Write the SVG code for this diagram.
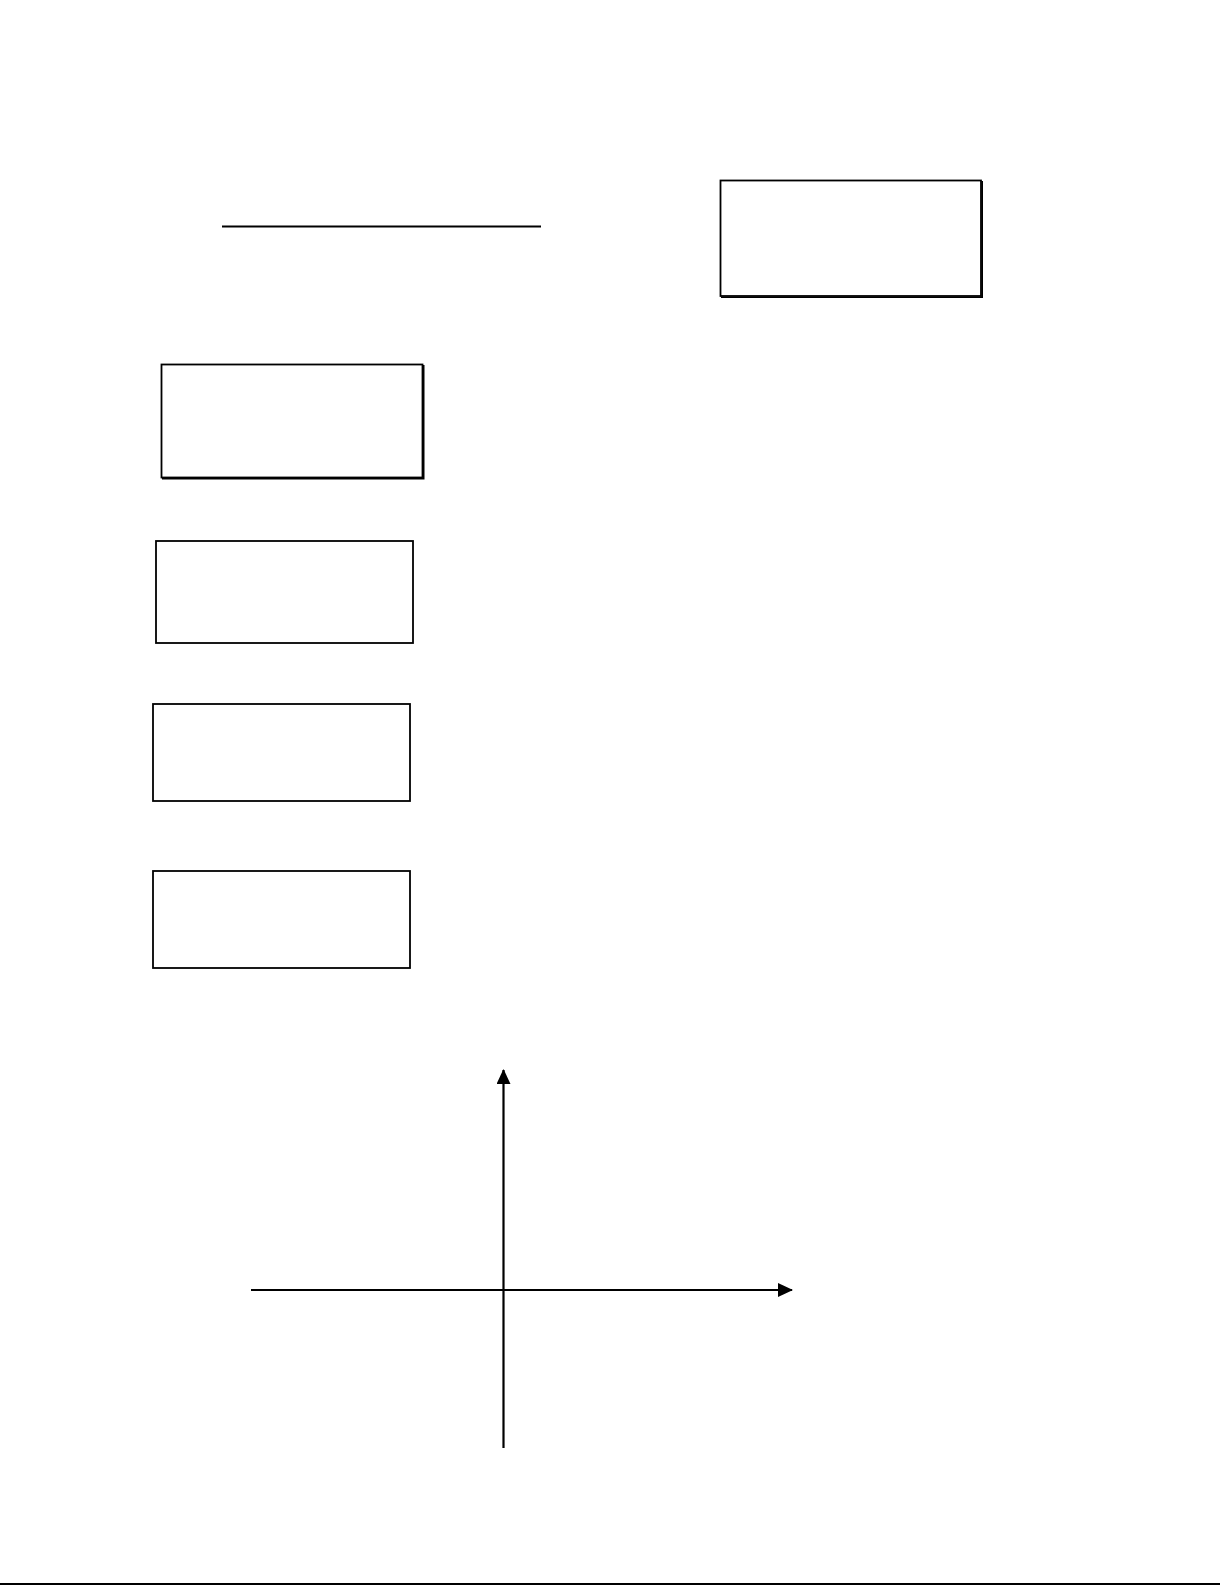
<svg xmlns="http://www.w3.org/2000/svg" width="1225" height="1585" viewBox="0 0 1225 1585">
<style>
.box{fill:#fff;stroke:#000;stroke-width:1.8}
.sh{fill:none;stroke:#000;stroke-width:1.6}
.ln{stroke:#000;stroke-width:1.8;fill:none}
.ax{stroke:#000;stroke-width:2.2;fill:none}
</style>
<defs>
<marker id="arr" viewBox="0 0 15 14" refX="14" refY="7" markerWidth="15" markerHeight="14" markerUnits="userSpaceOnUse" orient="auto">
<path d="M0,0 L15,7 L0,14 Z" fill="#000"/>
</marker>
</defs>
<rect width="1225" height="1585" fill="#fff"/>
<g id="title-line"><line class="ln" x1="222" y1="226.5" x2="541" y2="226.5"/></g>
<g id="box-right"><rect class="box" x="720.5" y="180.5" width="260.5" height="115.5"/><path class="sh" d="M982.2,181 V297.2 H721"/></g>
<g id="box-1"><rect class="box" x="161.5" y="364.5" width="261" height="113"/><path class="sh" d="M423.7,365 V478.7 H162"/></g>
<g id="box-2"><rect class="box" x="156" y="541" width="257" height="102"/></g>
<g id="box-3"><rect class="box" x="153" y="704" width="257" height="97"/></g>
<g id="box-4"><rect class="box" x="153" y="871" width="257" height="97"/></g>
<g id="connectors">
<line class="ax" x1="503.5" y1="1448" x2="503.5" y2="1070" marker-end="url(#arr)"/>
<line class="ax" x1="251" y1="1290" x2="792" y2="1290" marker-end="url(#arr)"/>
</g>
<g id="page-line"><line x1="0" y1="1584" x2="1220" y2="1584" stroke="#000" stroke-width="2"/></g>
</svg>
